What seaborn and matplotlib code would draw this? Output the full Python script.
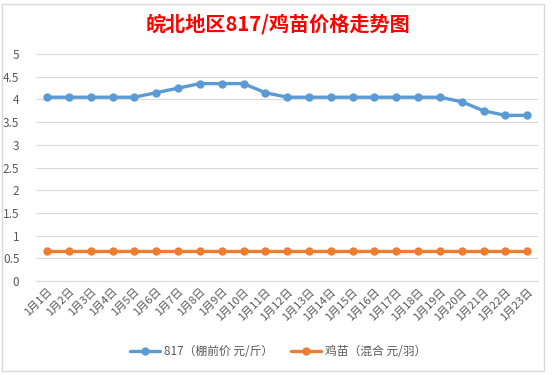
import numpy as np
import pandas as pd
import seaborn as sns
import matplotlib.pyplot as plt
from matplotlib.patches import Rectangle

sns.set_style("white")
plt.rcParams['font.family'] = ['Noto Sans CJK SC', 'DejaVu Sans']

dates = [f"1月{d}日" for d in range(1, 24)]
price_817 = [4.05, 4.05, 4.05, 4.05, 4.05, 4.15, 4.25, 4.35, 4.35, 4.35, 4.15,
             4.05, 4.05, 4.05, 4.05, 4.05, 4.05, 4.05, 4.05, 3.95, 3.75, 3.65, 3.65]
price_chick = [0.65] * 23
series_names = ["817（棚前价 元/斤）", "鸡苗（混合 元/羽）"]
colors = ["#5B9BD5", "#ED7D31"]

df = pd.DataFrame({
    "idx": list(range(len(dates))) * 2,
    "price": price_817 + price_chick,
    "series": [series_names[0]] * len(dates) + [series_names[1]] * len(dates),
})

fig = plt.figure(figsize=(5.56, 3.75), dpi=100)
ax = fig.add_axes([0.065, 0.2507, 0.903, 0.605])

sns.lineplot(data=df, x="idx", y="price", hue="series", palette=colors,
             marker="o", markersize=6, markeredgewidth=0, linewidth=2.4,
             ax=ax, legend=True)

ax.set_xlim(-0.5, len(dates) - 0.5)
ax.set_ylim(0, 5)
ax.set_yticks(np.arange(0, 5.01, 0.5))
ax.set_yticklabels([f"{v:g}" for v in np.arange(0, 5.01, 0.5)])
ax.set_xticks(range(len(dates)))
ax.set_xticklabels(dates, rotation=45, ha="right", rotation_mode="anchor")
ax.set_xticks(np.arange(-0.5, len(dates), 1), minor=True)
ax.tick_params(axis="x", which="major", length=0, labelsize=8, colors="#595959", pad=4)
ax.tick_params(axis="x", which="minor", length=4, color="#D9D9D9", direction="out")
ax.tick_params(axis="y", length=0, labelsize=8.5, colors="#595959", pad=12)
ax.grid(axis="y", color="#D9D9D9", linewidth=0.8)
ax.set_axisbelow(True)
for s in ["left", "right", "top"]:
    ax.spines[s].set_visible(False)
ax.spines["bottom"].set_color("#D9D9D9")
ax.set_xlabel("")
ax.set_ylabel("")

handles, labels = ax.get_legend_handles_labels()
ax.legend(handles, labels, loc="center", ncol=2, frameon=False, fontsize=8.5,
          labelcolor="#595959", handlelength=2.6, columnspacing=1.5,
          handletextpad=0.3, bbox_to_anchor=(0.5, 0.062),
          bbox_transform=fig.transFigure)

fig.suptitle("皖北地区817/鸡苗价格走势图", y=0.965, color="red",
             fontsize=14.5, fontweight="bold")

fig.patches.append(Rectangle((0.004, 0.01), 0.975, 0.98, transform=fig.transFigure,
                             fill=False, edgecolor="#D9D9D9", linewidth=1))

fig.savefig("out.png", dpi=100)
